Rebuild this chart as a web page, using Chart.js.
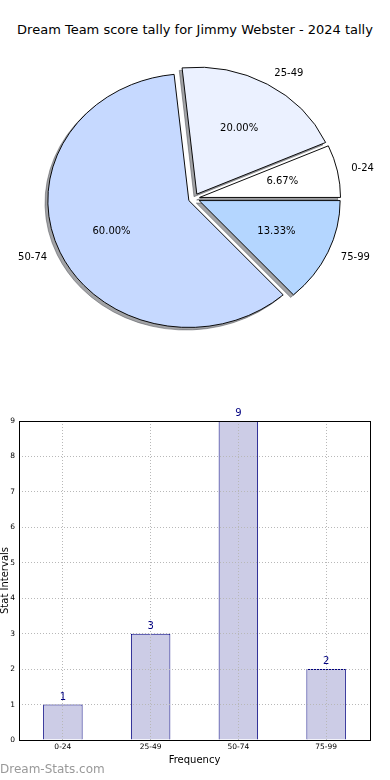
<!DOCTYPE html>
<html>
<head>
<meta charset="utf-8">
<script src="https://cdn.jsdelivr.net/npm/chart.js@4.4.1/dist/chart.umd.min.js"></script>
<style>
  html, body { margin: 0; padding: 0; background: #fff; }
  body { width: 390px; height: 780px; position: relative; overflow: hidden; font-family: "DejaVu Sans", sans-serif; }
  #title { position: absolute; top: 22px; left: 0; width: 390px; text-align: center; font-size: 13px; line-height: 16px; color: #000; }
  #pie-chart { position: absolute; left: 0; top: 0; }
  #bar-chart { position: absolute; left: 0; top: 390px; }
</style>
</head>
<body>
<div id="title">Dream Team score tally for Jimmy Webster - 2024 tally</div>
<canvas id="pie-chart" width="390" height="397"></canvas>
<canvas id="bar-chart" width="390" height="390"></canvas>
<script>
// score intervals and how many games fell in each
const categories = ['0-24', '25-49', '50-74', '75-99'];
const counts = [1, 3, 9, 2];
const sliceColors = ['#ffffff', '#ebf1ff', '#c6d9ff', '#b4d6ff'];

const total = counts.reduce((a, b) => a + b, 0);
const percents = counts.map(c => (c / total * 100).toFixed(2) + '%');

Chart.defaults.font.family = '"DejaVu Sans", sans-serif';
Chart.defaults.color = '#000';

// matplotlib-ish pie look: squashed circle, exploded wedges, drop shadow
const squash = 0.9;
const explode = 0.04;
const shadowShift = 0.02;

const pieLook = {
  id: 'pieLook',
  afterDatasetUpdate(chart, args) {
    args.meta.data.forEach(arc => {
      const mid = (arc.startAngle + arc.endAngle) / 2;
      arc.x += Math.cos(mid) * explode * arc.outerRadius;
      arc.y += Math.sin(mid) * explode * arc.outerRadius;
    });
  },
  beforeDatasetsDraw(chart) {
    const ctx = chart.ctx;
    const area = chart.chartArea;
    const cy = (area.top + area.bottom) / 2;
    ctx.save();
    ctx.translate(0, cy);
    ctx.scale(1, squash);
    ctx.translate(0, -cy);
    chart.getDatasetMeta(0).data.forEach(arc => {
      const s = Object.create(arc);
      s.x = arc.x - shadowShift * arc.outerRadius;
      s.y = arc.y + shadowShift * arc.outerRadius;
      s.options = Object.assign({}, arc.options, {
        backgroundColor: 'rgba(70,72,78,0.5)',
        borderColor: 'rgba(70,72,78,0.5)'
      });
      s.draw(ctx);
    });
  },
  afterDatasetsDraw(chart) {
    const ctx = chart.ctx;
    ctx.restore();
    const area = chart.chartArea;
    const cy = (area.top + area.bottom) / 2;
    const labels = chart.data.labels;
    const pct = chart.data.datasets[0].pctLabels;
    ctx.save();
    ctx.fillStyle = '#000';
    ctx.font = '10px "DejaVu Sans"';
    ctx.textBaseline = 'middle';
    chart.getDatasetMeta(0).data.forEach((arc, i) => {
      const mid = (arc.startAngle + arc.endAngle) / 2;
      const r = arc.outerRadius;
      const px = arc.x + Math.cos(mid) * r * 0.6;
      const py = cy + (arc.y + Math.sin(mid) * r * 0.6 - cy) * squash;
      ctx.textAlign = 'center';
      ctx.fillText(pct[i], px, py);
      const lx = arc.x + Math.cos(mid) * r * 1.1;
      const ly = cy + (arc.y + Math.sin(mid) * r * 1.1 - cy) * squash;
      ctx.textAlign = Math.cos(mid) > 0 ? 'left' : 'right';
      ctx.fillText(labels[i], lx, ly);
    });
    ctx.restore();
  }
};

// Chart.js goes clockwise, matplotlib counter-clockwise from 3 o'clock
const rev = a => a.slice().reverse();

new Chart(document.getElementById('pie-chart'), {
  type: 'pie',
  data: {
    labels: rev(categories),
    datasets: [{
      data: rev(counts),
      pctLabels: rev(percents),
      backgroundColor: rev(sliceColors),
      borderColor: '#000',
      borderWidth: 1
    }]
  },
  options: {
    responsive: false,
    animation: false,
    rotation: 90,
    radius: 141,
    layout: { padding: { right: 2 } },
    plugins: { legend: { display: false }, tooltip: { enabled: false } }
  },
  plugins: [pieLook]
});

const barExtras = {
  id: 'barExtras',
  afterDraw(chart) {
    const ctx = chart.ctx;
    const a = chart.chartArea;
    ctx.save();
    ctx.strokeStyle = '#000';
    ctx.lineWidth = 1;
    ctx.strokeRect(Math.round(a.left) + 0.5, Math.round(a.top) + 0.5,
      Math.round(a.right - a.left), Math.round(a.bottom - a.top));
    ctx.fillStyle = '#000080';
    ctx.font = '10px "DejaVu Sans"';
    ctx.textAlign = 'center';
    ctx.textBaseline = 'alphabetic';
    const values = chart.data.datasets[0].data;
    chart.getDatasetMeta(0).data.forEach((bar, i) => {
      ctx.fillText(String(values[i]), bar.x, bar.y - 5);
    });
    ctx.fillStyle = '#999';
    ctx.font = '12px "DejaVu Sans"';
    ctx.textAlign = 'left';
    ctx.textBaseline = 'middle';
    ctx.fillText('Dream-Stats.com', 0, 380);
    ctx.restore();
  }
};

new Chart(document.getElementById('bar-chart'), {
  type: 'bar',
  data: {
    labels: categories,
    datasets: [{
      data: counts,
      backgroundColor: '#ccccE6',
      borderColor: '#000080',
      borderWidth: 1,
      barPercentage: 0.45,
      categoryPercentage: 1
    }]
  },
  options: {
    responsive: false,
    animation: false,
    layout: { padding: { left: 0, right: 20, top: 31, bottom: 0 } },
    plugins: { legend: { display: false }, tooltip: { enabled: false } },
    scales: {
      x: {
        grid: { offset: false, color: '#b8b8b8', drawTicks: false, z: 1 },
        border: { display: false, dash: [1, 2] },
        ticks: { font: { size: 7.5 }, padding: 3, color: '#000' },
        title: { display: true, text: 'Frequency', font: { size: 10 }, padding: { top: 0, bottom: 14 } },
        afterFit: s => { s.height = 40; }
      },
      y: {
        min: 0,
        max: 9,
        grid: { color: '#b8b8b8', drawTicks: false, z: 1 },
        border: { display: false, dash: [1, 2] },
        ticks: { stepSize: 1, font: { size: 7.5 }, padding: 4, color: '#000' },
        title: { display: true, text: 'Stat Intervals', font: { size: 10 }, padding: { top: -1, bottom: 0 } },
        afterFit: s => { s.width = 19; }
      }
    }
  },
  plugins: [barExtras]
});
</script>
</body>
</html>
